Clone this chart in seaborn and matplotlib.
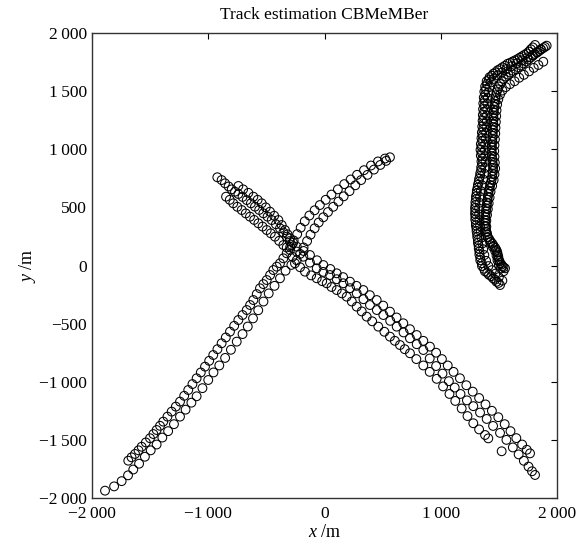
import matplotlib
matplotlib.use("Agg")
import matplotlib.pyplot as plt
import seaborn as sns
import pandas as pd

# ---------------- data (metres) ----------------
# Track A : lower-left -> upper-right (two estimates)
a1_x = [-1688, -1660, -1630, -1600, -1573, -1537, -1501, -1472, -1444, -1415, -1387, -1351, -1315,
        -1279, -1243, -1207, -1172, -1136, -1100, -1064, -1028, -992, -957, -921, -885, -849, -813,
        -777, -741, -705, -669, -640, -612, -583, -555, -526, -497, -468, -440, -411, -383, -354,
        -325, -295, -265, -235, -205, -170, -130, -85, -40, 10, 60, 115, 170, 225, 280, 340, 400,
        460, 520, 563]
a1_y = [-1679, -1650, -1621, -1590, -1559, -1522, -1486, -1450, -1415, -1379, -1343, -1300, -1257,
        -1214, -1171, -1121, -1071, -1020, -970, -920, -870, -820, -770, -720, -669, -619, -569,
        -519, -469, -426, -383, -340, -297, -246, -196, -160, -125, -82, -39, -10, 19, 62,
        105, 160, 215, 270, 325, 380, 430, 475, 520, 565, 610, 655, 700, 740, 780, 820, 860,
        895, 920, 931]
a2_x = [-1888, -1810, -1745, -1690, -1645, -1595, -1545, -1495, -1444, -1395, -1345, -1295, -1243,
        -1195, -1145, -1100, -1050, -1000, -955, -905, -855, -805, -755, -705, -660, -615, -570,
        -525, -480, -430, -383, -335, -285, -239, -210, -180, -150, -120, -85, -50, -10, 30, 75,
        120, 165, 215, 265, 315, 370, 425, 480, 530]
a2_y = [-1937, -1900, -1855, -1805, -1755, -1705, -1645, -1590, -1540, -1480, -1425, -1365, -1300,
        -1240, -1180, -1125, -1055, -985, -920, -860, -795, -725, -655, -590, -525, -455, -385,
        -310, -240, -175, -110, -45, 5, 45, 100, 155, 210, 265, 320, 370, 415, 460, 505,
        550, 595, 640, 690, 735, 780, 825, 865, 900]

# Track B : upper-left -> lower-right (three estimates)
b1_x = [-741, -700, -655, -612, -575, -540, -505, -469, -433, -397, -368, -340, -318, -297, -270,
        -239, -180, -125, -65, -10, 50, 105, 160, 219, 275, 334, 390, 449, 505, 563, 620, 678,
        735, 793, 850, 907, 960, 1010, 1060, 1110, 1165, 1220, 1275, 1330, 1385, 1440, 1495,
        1550, 1600, 1650, 1700, 1740, 1768]
b1_y = [684, 655, 625, 592, 565, 535, 500, 463, 428, 391, 348, 305, 268, 234, 195,
        162, 125, 90, 45, 4, -30, -67, -100, -139, -175, -211, -255, -297, -345, -397, -447, -497,
        -548, -598, -648, -698, -750, -805, -860, -915, -970, -1030, -1085, -1140, -1195, -1250, -1305,
        -1365, -1425, -1485, -1540, -1585, -1616]
b2_x = [-922, -885, -856, -825, -798, -770, -741, -705, -669, -633, -598, -562, -526, -490, -454,
        -418, -383, -354, -325, -300, -282, -240, -182, -125, -67, -10, 47, 105, 162, 220, 277,
        335, 391, 450, 506, 565, 621, 680, 735, 793, 850, 905, 960, 1015, 1070, 1120, 1170, 1225,
        1280, 1338, 1395, 1450, 1510, 1565, 1620, 1670, 1715, 1755, 1785, 1811]
b2_y = [759, 735, 707, 680, 655, 635, 615, 590, 563, 535, 506, 478, 449, 420, 391,
        355, 320, 284, 248, 210, 176, 120, 76, 25, -24, -55, -82, -118, -153, -195, -239,
        -290, -340, -383, -426, -476, -526, -576, -626, -677, -727, -800, -865, -930, -995, -1050, -1105, -1160,
        -1210, -1265, -1320, -1380, -1440, -1500, -1565, -1625, -1680, -1730, -1770, -1802]
b3_x = [-847, -815, -785, -750, -712, -677, -641, -605, -569, -533, -497, -462, -426, -390, -354,
        -325, -297, -275, -254, -210, -168, -115, -67, -20, 19, 60, 105, 150, 191, 235, 277, 320,
        363, 410, 463, 515, 563, 605, 649, 690, 735, 790, 850, 905, 965, 1020, 1075, 1125, 1180,
        1230, 1280, 1330, 1381, 1409, 1524]
b3_y = [592, 565, 535, 505, 477, 448, 420, 392, 363, 335, 305, 277, 248, 212, 176,
        155, 133, 75, 19, -15, -53, -85, -110, -135, -153, -185, -211, -240, -268, -310, -354, -395,
        -440, -480, -526, -570, -612, -648, -684, -720, -755, -805, -860, -915, -975, -1040, -1105, -1165, -1230,
        -1295, -1357, -1410, -1458, -1487, -1598]

# Track C : upper-right group (six estimates, densely sampled)
c1_x = [1510, 1480, 1450, 1415, 1380, 1355, 1340, 1332, 1327, 1320, 1314, 1308, 1302, 1297, 1295,
        1295, 1298, 1303, 1310, 1320, 1330, 1340, 1348, 1350, 1345, 1342, 1345, 1350, 1354, 1357,
        1360, 1362, 1364, 1366, 1370, 1375, 1382, 1395, 1420, 1452, 1490, 1530, 1575, 1620, 1660,
        1700, 1740, 1775, 1811]
c1_y = [-168, -140, -110, -80, -50, -5, 45, 95, 145, 195, 245, 295, 345, 395, 445,
        495, 545, 595, 645, 695, 745, 795, 845, 895, 945, 995, 1045, 1095, 1145, 1195,
        1245, 1295, 1345, 1395, 1445, 1495, 1540, 1585, 1620, 1650, 1680, 1705, 1735, 1755, 1775,
        1800, 1825, 1860, 1897]
c2_x = [1530, 1500, 1470, 1440, 1410, 1390, 1375, 1365, 1358, 1350, 1344, 1338, 1333, 1330, 1330,
        1333, 1338, 1345, 1355, 1365, 1375, 1382, 1385, 1382, 1380, 1382, 1386, 1390, 1393, 1396,
        1398, 1400, 1402, 1405, 1410, 1418, 1432, 1455, 1488, 1525, 1565, 1610, 1655, 1700, 1745,
        1790, 1830, 1860]
c2_y = [-130, -100, -70, -40, -5, 40, 90, 140, 190, 240, 290, 340, 390, 440, 490,
        540, 590, 640, 690, 740, 790, 840, 890, 940, 990, 1040, 1090, 1140, 1190, 1240,
        1290, 1340, 1390, 1440, 1490, 1535, 1575, 1605, 1635, 1660, 1690, 1715, 1740, 1765, 1790,
        1810, 1835, 1860]
c3_x = [1553, 1530, 1510, 1497, 1490, 1478, 1455, 1430, 1405, 1390, 1383, 1381, 1385, 1392, 1398,
        1405, 1412, 1425, 1438, 1445, 1450, 1445, 1440, 1438, 1440, 1444, 1447, 1449, 1451, 1453,
        1457, 1463, 1470, 1480, 1500, 1525, 1560, 1600, 1645, 1690, 1735, 1775, 1810, 1845, 1880,
        1911]
c3_y = [-24, -5, 20, 55, 95, 135, 170, 205, 245, 290, 340, 390, 440, 490, 540,
        590, 640, 690, 740, 790, 840, 890, 940, 990, 1040, 1090, 1140, 1190, 1240, 1290,
        1340, 1390, 1440, 1490, 1540, 1585, 1625, 1660, 1690, 1720, 1755, 1790, 1820, 1845, 1870,
        1891]
c4_x = [1540, 1518, 1500, 1488, 1480, 1468, 1448, 1425, 1405, 1395, 1392, 1392, 1398, 1405, 1412,
        1420, 1428, 1442, 1455, 1462, 1468, 1465, 1462, 1460, 1462, 1466, 1469, 1471, 1474, 1477,
        1480, 1485, 1495, 1510, 1530, 1560, 1595, 1635, 1675, 1715, 1760, 1800, 1840, 1882]
c4_y = [-50, -25, 5, 45, 85, 125, 160, 198, 240, 285, 335, 385, 435, 485, 535,
        585, 635, 685, 735, 785, 835, 885, 935, 985, 1035, 1085, 1135, 1185, 1235, 1285,
        1335, 1385, 1430, 1470, 1505, 1535, 1560, 1585, 1615, 1640, 1670, 1700, 1725, 1753]
c5_x = [1497, 1466, 1435, 1400, 1372, 1353, 1340, 1333, 1326, 1320, 1313, 1307, 1302, 1298, 1297,
        1299, 1303, 1309, 1317, 1327, 1338, 1348, 1356, 1357, 1353, 1352, 1356, 1360, 1364, 1367,
        1370, 1372, 1374, 1377, 1382, 1388, 1398, 1415, 1440, 1472, 1510, 1552, 1597, 1640, 1680,
        1720, 1758, 1792]
c5_y = [-150, -122, -92, -62, -28, 20, 70, 120, 170, 220, 270, 320, 370, 420, 470,
        520, 570, 620, 670, 720, 770, 820, 870, 920, 970, 1020, 1070, 1120, 1170, 1220,
        1270, 1320, 1370, 1420, 1470, 1518, 1562, 1600, 1632, 1662, 1690, 1718, 1744, 1765, 1788,
        1812, 1840, 1876]
c6_x = [1540, 1522, 1505, 1495, 1486, 1468, 1444, 1418, 1399, 1388, 1383, 1384, 1389, 1396, 1402,
        1410, 1419, 1432, 1443, 1449, 1449, 1444, 1440, 1440, 1443, 1447, 1449, 1451, 1453, 1456,
        1461, 1467, 1475, 1490, 1512, 1542, 1580, 1622, 1668, 1712, 1755, 1793, 1828, 1862, 1896]
c6_y = [-15, 8, 38, 75, 115, 152, 188, 225, 268, 315, 365, 415, 465, 515, 565,
        615, 665, 715, 765, 815, 865, 915, 965, 1015, 1065, 1115, 1165, 1215, 1265, 1315,
        1365, 1415, 1465, 1515, 1562, 1605, 1642, 1675, 1705, 1738, 1772, 1805, 1832, 1858, 1880]

x_ticks = [-2000, -1000, 0, 1000, 2000]
x_tick_labels = ["\u22122\u2009000", "\u22121\u2009000", "0", "1\u2009000", "2\u2009000"]
y_ticks = [-2000, -1500, -1000, -500, 0, 500, 1000, 1500, 2000]
y_tick_labels = ["\u22122\u2009000", "\u22121\u2009500", "\u22121\u2009000", "\u2212500", "0",
                 "500", "1\u2009000", "1\u2009500", "2\u2009000"]
title_text = "Track estimation CBMeMBer"

# ---------------- build table ----------------
tracks = [(a1_x, a1_y), (a2_x, a2_y), (b1_x, b1_y), (b2_x, b2_y), (b3_x, b3_y),
          (c1_x, c1_y), (c2_x, c2_y), (c3_x, c3_y), (c4_x, c4_y), (c5_x, c5_y), (c6_x, c6_y)]
frames = []
for i, (tx, ty) in enumerate(tracks):
    frames.append(pd.DataFrame({"x": tx, "y": ty, "track": i}))
df = pd.concat(frames, ignore_index=True)

# ---------------- style ----------------
sns.set_theme(style="white")
plt.rcParams["font.family"] = ["Liberation Serif", "DejaVu Serif"]
plt.rcParams["mathtext.fontset"] = "custom"
plt.rcParams["mathtext.it"] = "Liberation Serif:italic"
plt.rcParams["mathtext.rm"] = "Liberation Serif"

fig = plt.figure(figsize=(5.86, 5.44), dpi=100)
ax = fig.add_axes([92 / 586, 1 - 498 / 544, 465 / 586, 465 / 544])

sns.scatterplot(data=df, x="x", y="y", ax=ax, marker="o", s=40,
                facecolors="none", edgecolor="black", linewidth=0.75, legend=False)

ax.set_xlim(-2000, 2000)
ax.set_ylim(-2000, 2000)
ax.set_xticks(x_ticks, x_tick_labels)
ax.set_yticks(y_ticks, y_tick_labels)
ax.tick_params(direction="in", top=True, right=True, length=4, width=0.8,
               colors="black", labelsize=12.5)
ax.tick_params(axis="x", pad=6)
ax.tick_params(axis="y", pad=3.5)
for sp in ax.spines.values():
    sp.set_color("#333333")
    sp.set_linewidth(1.0)

ax.set_xlabel("$x$ /m", fontsize=13, labelpad=1, color="black")
ax.set_ylabel("$y$ /m", fontsize=13, labelpad=1, color="black")
ax.set_title(title_text, fontsize=12.5, pad=10, color="black")

fig.savefig("out.png", dpi=100, facecolor="white")
